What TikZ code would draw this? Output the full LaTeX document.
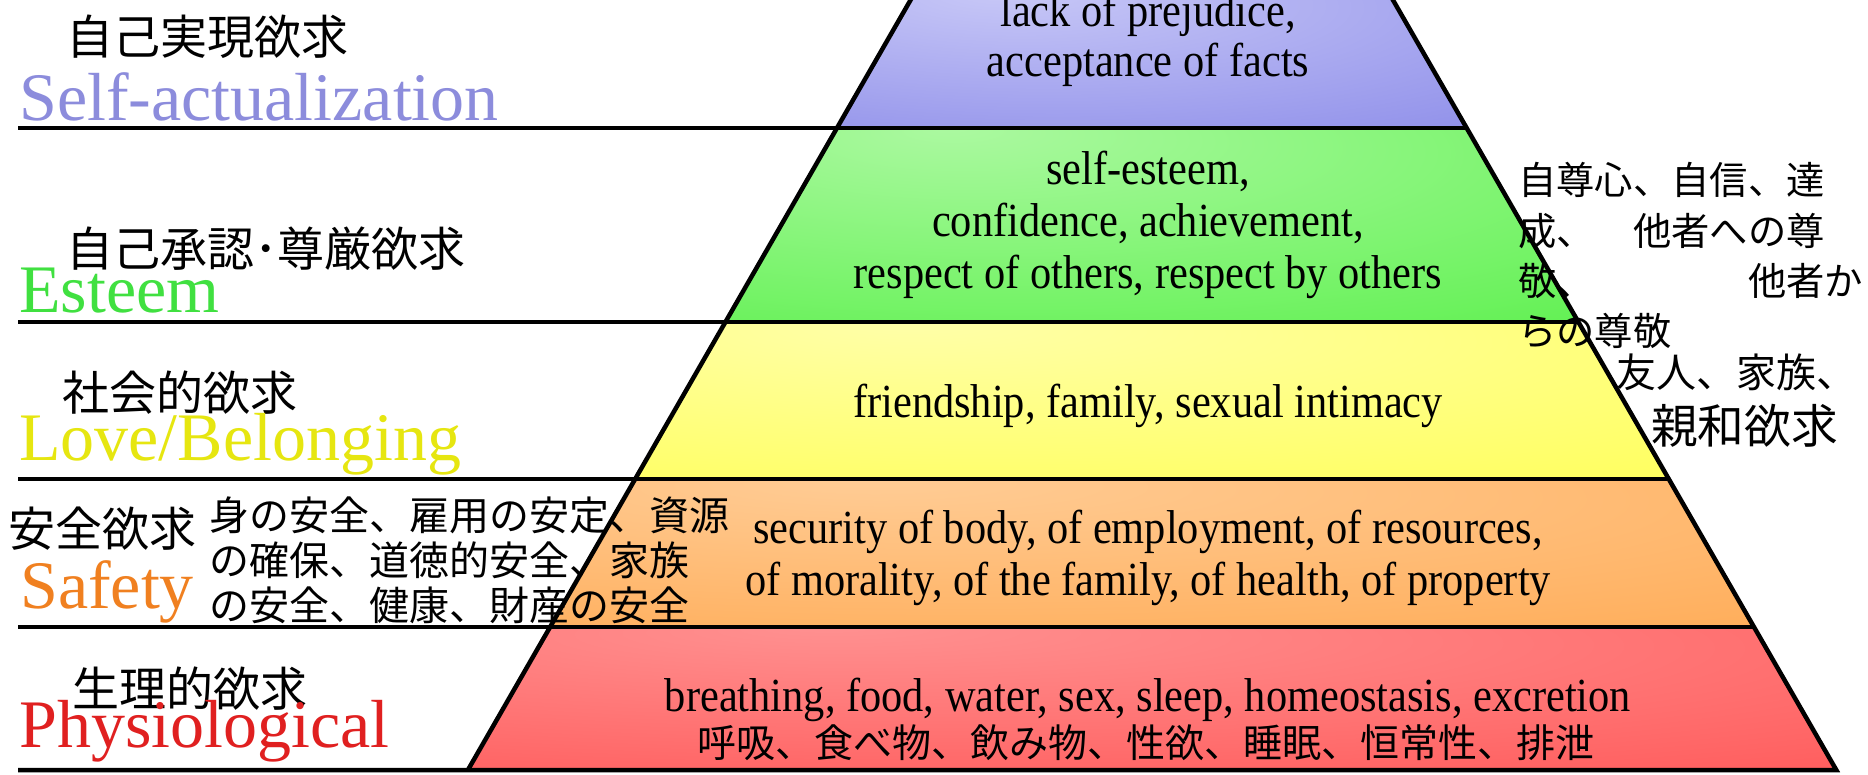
\documentclass[tikz,border=0pt]{standalone}
\usepackage{fontspec}
\setmainfont{Liberation Serif}
\newfontfamily\jp{Noto Sans CJK JP}
\definecolor{blueL}{HTML}{C8C8F7}
\definecolor{blueD}{HTML}{8080E6}
\definecolor{greenL}{HTML}{ABF9A0}
\definecolor{greenD}{HTML}{4CEE3C}
\definecolor{yellowL}{HTML}{FFFFA8}
\definecolor{yellowD}{HTML}{FFFF48}
\definecolor{orangeL}{HTML}{FFCC95}
\definecolor{orangeD}{HTML}{FFA448}
\definecolor{redL}{HTML}{FF9090}
\definecolor{redD}{HTML}{FF4E4E}
\definecolor{labBlue}{HTML}{8C8CDC}
\definecolor{labGreen}{HTML}{40E040}
\definecolor{labYellow}{HTML}{E6E610}
\definecolor{labOrange}{HTML}{F08020}
\definecolor{labRed}{HTML}{E02020}
\pgfdeclareradialshading{bandblue}{\pgfpoint{-12bp}{25bp}}{color(0bp)=(blueL); color(65bp)=(blueD); color(100bp)=(blueD)}
\pgfdeclareradialshading{bandgreen}{\pgfpoint{-12bp}{25bp}}{color(0bp)=(greenL); color(65bp)=(greenD); color(100bp)=(greenD)}
\pgfdeclareradialshading{bandyellow}{\pgfpoint{-12bp}{25bp}}{color(0bp)=(yellowL); color(65bp)=(yellowD); color(100bp)=(yellowD)}
\pgfdeclareradialshading{bandorange}{\pgfpoint{-12bp}{25bp}}{color(0bp)=(orangeL); color(65bp)=(orangeD); color(100bp)=(orangeD)}
\pgfdeclareradialshading{bandred}{\pgfpoint{-12bp}{25bp}}{color(0bp)=(redL); color(65bp)=(redD); color(100bp)=(redD)}
\newcommand{\tallen}[1]{\scalebox{1}[1.12]{#1}}
\begin{document}
\begin{tikzpicture}[x=1pt,y=-1pt,
  sepline/.style={line width=4.5pt, black},
  edgeline/.style={line width=4.5pt, black},
  biglabel/.style={anchor=base west, inner sep=0pt, font=\fontsize{68}{80}\selectfont},
  jplabel/.style={anchor=base west, inner sep=0pt, font=\jp\fontsize{47}{55}\selectfont},
  entext/.style={anchor=base, inner sep=0pt, font=\fontsize{42.4}{50}\selectfont},
  jpforty/.style={anchor=base west, inner sep=0pt, font=\jp\fontsize{40}{45}\selectfont},
  jpsmall/.style={anchor=base west, inner sep=0pt, font=\jp\fontsize{38.3}{45}\selectfont},
]
\useasboundingbox (0,0) rectangle (1868,774);
\clip (0,0) rectangle (1868,774);
\fill[white] (0,0) rectangle (1868,774);
% pyramid corners
\coordinate (L0) at (916.3,-10);  \coordinate (R0) at (1387.2,-10);
\coordinate (L1) at (837.0,128);  \coordinate (R1) at (1466.7,128);
\coordinate (L2) at (725.5,322);  \coordinate (R2) at (1578.4,322);
\coordinate (L3) at (635.2,479);  \coordinate (R3) at (1668.8,479);
\coordinate (L4) at (550.1,627);  \coordinate (R4) at (1754.0,627);
\coordinate (L5) at (467.9,770);  \coordinate (R5) at (1836.3,770);
\coordinate (A1) at (18,128);
\coordinate (A2) at (18,322);
\coordinate (A3) at (18,479);
\coordinate (A4) at (18,627);
\coordinate (A5) at (18,770);
% bands
\shade[shading=bandblue]   (L0) -- (R0) -- (R1) -- (L1) -- cycle;
\shade[shading=bandgreen]  (L1) -- (R1) -- (R2) -- (L2) -- cycle;
\shade[shading=bandyellow] (L2) -- (R2) -- (R3) -- (L3) -- cycle;
\shade[shading=bandorange] (L3) -- (R3) -- (R4) -- (L4) -- cycle;
\shade[shading=bandred]    (L4) -- (R4) -- (R5) -- (L5) -- cycle;
% separators and outline
\draw[sepline] (A1) -- (R1);
\draw[sepline] (A2) -- (R2);
\draw[sepline] (A3) -- (R3);
\draw[sepline] (A4) -- (R4);
\draw[edgeline] (L0) -- (L5);
\draw[sepline, line join=miter] (A5) -- (R5) -- (R0);
% texts inside the pyramid
\node[entext] (t1a) at (1148,26) {\tallen{lack of prejudice,}};
\node[entext] (t1b) at (1148,76) {\tallen{acceptance of facts}};
\node[entext] (t2a) at (1148,184) {\tallen{self-esteem,}};
\node[entext] (t2b) at (1148,236) {\tallen{confidence, achievement,}};
\node[entext] (t2c) at (1148,288) {\tallen{respect of others, respect by others}};
\node[entext] (t3a) at (1148,417) {\tallen{friendship, family, sexual intimacy}};
\node[entext] (t4a) at (1148,543) {\tallen{security of body, of employment, of resources,}};
\node[entext] (t4b) at (1148,595) {\tallen{of morality, of the family, of health, of property}};
\node[entext] (t5a) at (1148,711) {\tallen{breathing, food, water, sex, sleep, homeostasis, excretion}};
\node[anchor=base, inner sep=0pt, font=\jp\fontsize{39}{45}\selectfont] (t5b) at (1146,757) {呼吸、食べ物、飲み物、性欲、睡眠、恒常性、排泄};
% left labels
\node[jplabel] (j1) at (66,54) {自己実現欲求};
\node[biglabel, text=labBlue] (e1) at (19,120) {Self-actualization};
\node[jplabel] (j2) at (66,266) {自己承認･尊厳欲求};
\node[biglabel, text=labGreen] (e2) at (19,312) {Esteem};
\node[jplabel] (j3) at (62,410) {社会的欲求};
\node[biglabel, text=labYellow] (e3) at (19,460) {Love/Belonging};
\node[jplabel] (j4) at (8,546) {安全欲求};
\node[biglabel, text=labOrange] (e4) at (20,608) {Safety};
\node[jplabel] (j5) at (72,706) {生理的欲求};
\node[biglabel, text=labRed] (e5) at (19,747) {Physiological};
% safety japanese
\node[jpforty] (s1) at (209,530) {身の安全、雇用の安定、資源};
\node[jpforty] (s2) at (209,575) {の確保、道徳的安全、家族};
\node[jpforty] (s3) at (209,620) {の安全、健康、財産の安全};
% right texts
\node[jpsmall] (r1) at (1518,194) {自尊心、自信、達};
\node[jpsmall] (r2) at (1518,245) {成、　他者への尊};
\node[jpsmall] (r3) at (1518,295) {敬、　　　　他者か};
\node[jpsmall] (r4) at (1518,345) {らの尊敬};
\node[jpforty] (f1) at (1616,387) {友人、家族、};
\node[anchor=base west, inner sep=0pt, font=\jp\fontsize{46.7}{50}\selectfont] (f2) at (1651,443) {親和欲求};
\end{tikzpicture}
\end{document}
